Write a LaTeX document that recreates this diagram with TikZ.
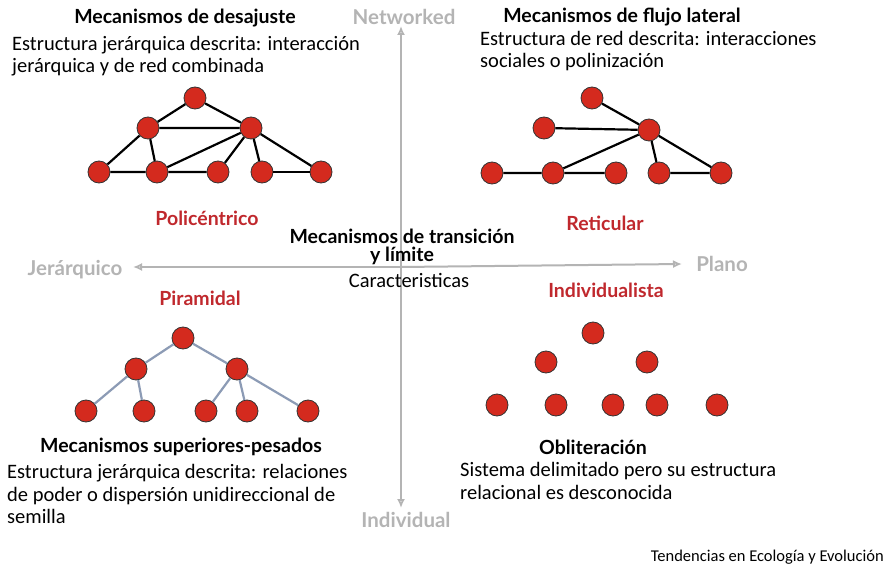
\documentclass[tikz,border=0pt]{standalone}
\usepackage{fontspec}
\setmainfont{Carlito}
\newfontfamily\lato{Lato}
\usetikzlibrary{arrows.meta}
\definecolor{nodered}{HTML}{D42A1E}
\definecolor{labred}{HTML}{C0282D}
\definecolor{axisgray}{HTML}{B4B4B4}
\definecolor{treeblue}{HTML}{8C9BB5}
\tikzset{
  dot/.style={circle,fill=nodered,draw=black!80,line width=0.8pt,minimum size=22pt,inner sep=0pt},
  net/.style={line width=2.2pt,draw=black},
  tree/.style={line width=2.2pt,draw=treeblue},
  ttl/.style={font=\lato\bfseries\fontsize{19.5}{22}\selectfont,anchor=center,inner sep=0pt},
  body/.style={font=\fontsize{20.5}{22.5}\selectfont,anchor=west,inner sep=0pt,align=left},
  red/.style={font=\lato\bfseries\fontsize{19.5}{22}\selectfont,text=labred},
  ax/.style={font=\lato\bfseries\fontsize{20.5}{23}\selectfont,text=axisgray},
  axis/.style={draw=axisgray,line width=2pt,-{Latex[open,length=9pt,width=8pt]}}
}
\begin{document}
\begin{tikzpicture}[x=1pt,y=-1pt]
\useasboundingbox[fill=white] (0,0) rectangle (886,564);

% axes
\coordinate (vt) at (401,26);
\coordinate (vb) at (401,508);
\coordinate (hl) at (133,267);
\coordinate (hr) at (682,264);
\coordinate (vm) at (401,267);
\draw[axis] (vm) -- (vt);
\draw[axis] (vm) -- (vb);
\draw[axis] (vm) -- (hl);
\draw[axis] (vm) -- (hr);

\node[ax] (lnet) at (404,17) {Networked};
\node[ax] (lind) at (406,520) {Individual};
\node[ax] (ljer) at (75,270) {Jerárquico};
\node[ax] (lpla) at (722,264) {Plano};

% center text
\node[font=\lato\bfseries\fontsize{19.5}{18}\selectfont,align=center,inner sep=0pt] (c1) at (402,247) {Mecanismos de transición\\y límite};
\node[font=\fontsize{20.5}{22}\selectfont,inner sep=0pt] (c3) at (409,280) {Caracteristicas};

% top-left: Policéntrico
\node[ttl] (t1) at (185,18) {Mecanismos de desajuste};
\node[body] (b1) at (12,56) {Estructura jerárquica descrita: interacción\\jerárquica y de red combinada};
\node[dot] (a0) at (195,98) {};
\node[dot] (a1) at (148,128) {};
\node[dot] (a2) at (251,128) {};
\node[dot] (a3) at (99,172) {};
\node[dot] (a4) at (157,172) {};
\node[dot] (a5) at (218,172) {};
\node[dot] (a6) at (262,172) {};
\node[dot] (a7) at (321,172) {};
\draw[net] (a0) -- (a1) (a0) -- (a2) (a1) -- (a2) (a1) -- (a3) (a1) -- (a4)
  (a4) -- (a2) (a5) -- (a2) (a6) -- (a2) (a7) -- (a2) (a3) -- (a4) (a4) -- (a5);
\draw[line width=1.2pt] (a6) -- (a7);
\node[red] (r1) at (207,218) {Policéntrico};

% top-right: Reticular
\node[ttl] (t2) at (622,17) {Mecanismos de flujo lateral};
\node[body] (b2) at (480,51) {Estructura de red descrita: interacciones\\sociales o polinización};
\node[dot] (b0) at (592,98) {};
\node[dot] (bm1) at (544,128) {};
\node[dot] (bm2) at (649,130) {};
\node[dot] (bb1) at (492,173) {};
\node[dot] (bb2) at (553,173) {};
\node[dot] (bb3) at (616,173) {};
\node[dot] (bb4) at (659,173) {};
\node[dot] (bb5) at (721,173) {};
\draw[net] (b0) -- (bm2) (bm1) -- (bm2) (bm2) -- (bb2) (bm2) -- (bb4) (bm2) -- (bb5)
  (bb1) -- (bb2) (bb2) -- (bb3) (bb4) -- (bb5);
\node[red] (r2) at (605,223) {Reticular};

% bottom-left: Piramidal
\node[red] (r3) at (200,298) {Piramidal};
\node[dot] (p0) at (183,338) {};
\node[dot] (p1) at (136,369) {};
\node[dot] (p2) at (237,369) {};
\node[dot] (p3) at (86,411) {};
\node[dot] (p4) at (144,411) {};
\node[dot] (p5) at (206,411) {};
\node[dot] (p6) at (247,411) {};
\node[dot] (p7) at (308,411) {};
\draw[tree] (p0) -- (p1) (p0) -- (p2) (p1) -- (p3) (p1) -- (p4) (p2) -- (p5) (p2) -- (p6) (p2) -- (p7);
\node[ttl] (t3) at (181,447) {Mecanismos superiores-pesados};
\node[body] (b3) at (7,494) {Estructura jerárquica descrita: relaciones\\de poder o dispersión unidireccional de\\semilla};

% bottom-right: Individualista
\node[red] (r4) at (606,290) {Individualista};
\node[dot] (i0) at (593,333) {};
\node[dot] (i1) at (546,362) {};
\node[dot] (i2) at (647,362) {};
\node[dot] (i3) at (497,405) {};
\node[dot] (i4) at (556,405) {};
\node[dot] (i5) at (613,405) {};
\node[dot] (i6) at (657,405) {};
\node[dot] (i7) at (717,405) {};
\node[ttl] (t4) at (593,447) {Obliteración};
\node[body] (b4) at (460,481) {Sistema delimitado pero su estructura\\relacional es desconocida};

\node[font=\fontsize{16.5}{18}\selectfont,anchor=east,inner sep=0pt] (src) at (884,557) {Tendencias en Ecología y Evolución};
\end{tikzpicture}
\end{document}
